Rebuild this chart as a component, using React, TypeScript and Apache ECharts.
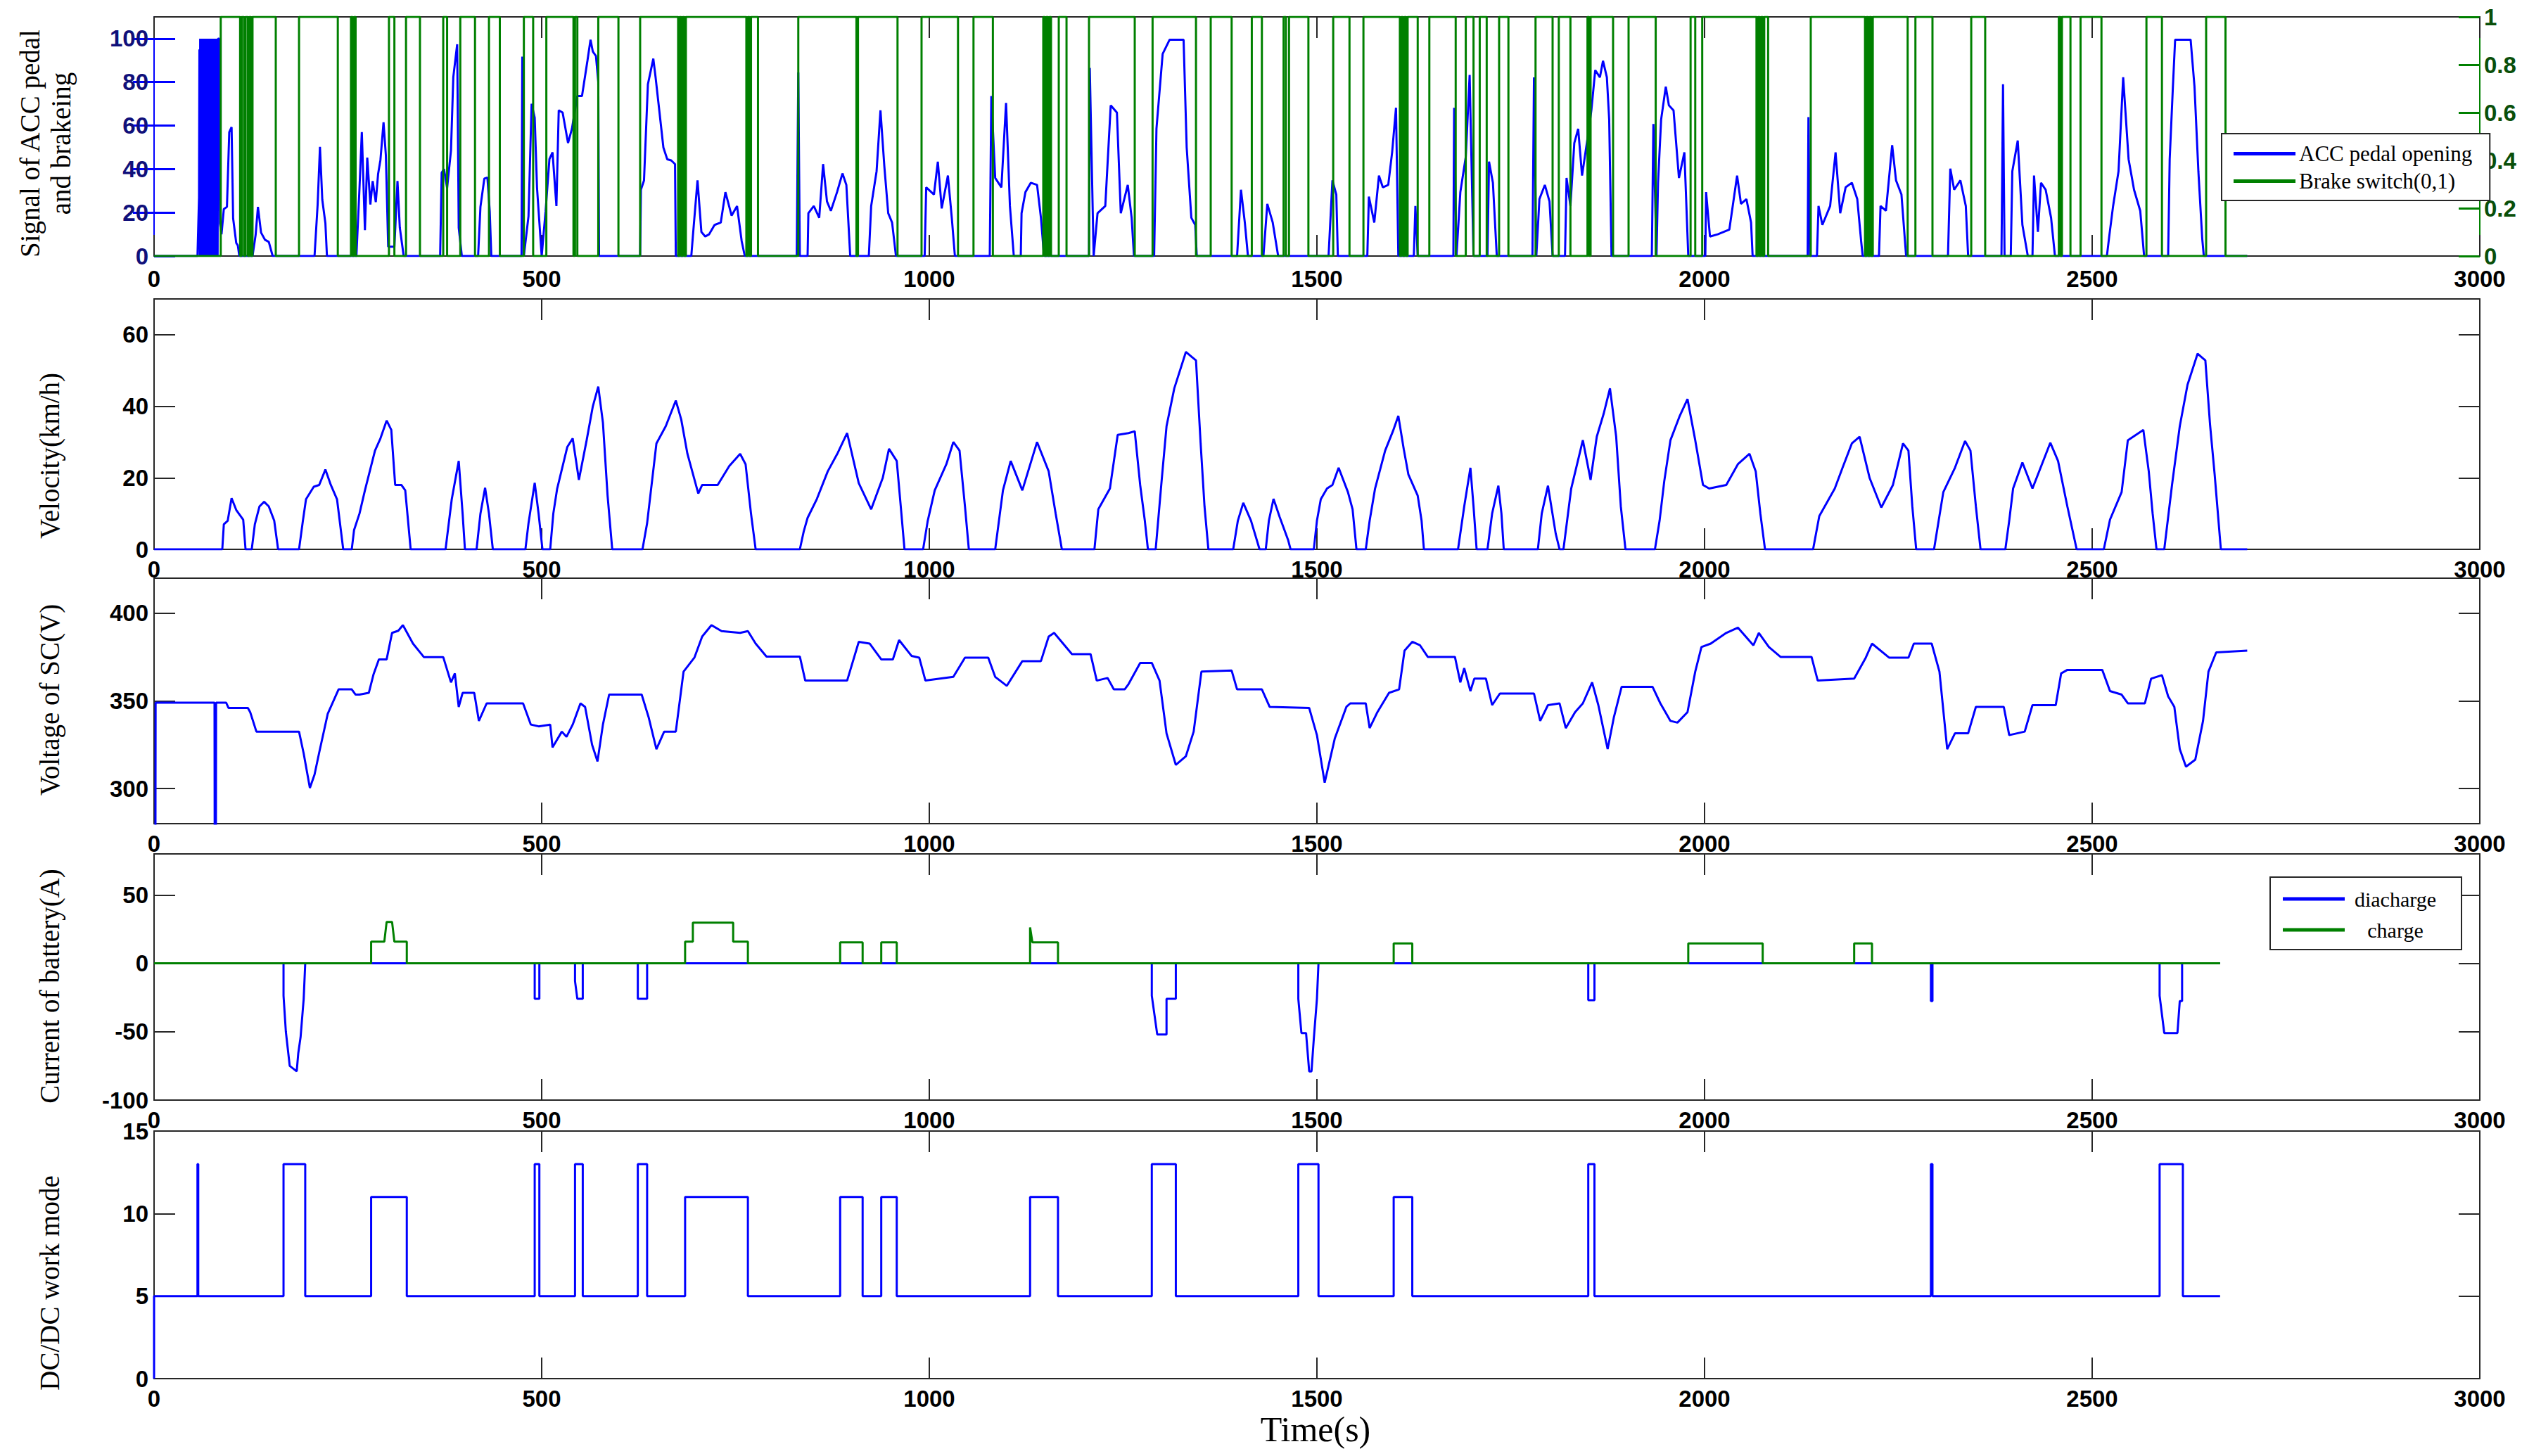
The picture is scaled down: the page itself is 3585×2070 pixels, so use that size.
import React, { useEffect, useRef } from "react";
import * as echarts from "echarts";

// ---------- tick values ----------
const xTicks = [0, 500, 1000, 1500, 2000, 2500, 3000];
const pedalTicks = [0, 20, 40, 60, 80, 100];
const brakeTicks = [0, 0.2, 0.4, 0.6, 0.8, 1];
const velTicks = [0, 20, 40, 60];
const voltTicks = [300, 350, 400];
const currTicks = [-100, -50, 0, 50];
const modeTicks = [0, 5, 10, 15];

// ---------- data: [time(s), value] ----------
const pedal: number[][] = [
  [0, 0], [56, 0], [58, 27], [58.5, 95], [59, 0], [59.5, 100], [60, 0], [60.5, 100], [61, 0], [61.5, 100], [62, 0],
  [62.5, 100], [63, 5], [63.5, 100], [64, 0], [64.5, 100], [65, 0], [65.5, 100], [66, 10], [66.5, 100], [67, 0],
  [67.5, 100], [68, 0], [68.5, 100], [69, 0], [69.5, 100], [70, 0], [70.5, 100], [71, 3], [71.5, 100], [72, 0],
  [72.5, 100], [73, 0], [73.5, 100], [74, 0], [74.5, 100], [75, 8], [75.5, 100], [76, 0], [76.5, 100], [77, 0],
  [77.5, 100], [78, 0], [78.5, 100], [79, 0], [79.5, 100], [80, 0], [80.5, 100], [81, 8], [81.5, 100], [82, 0],
  [82.5, 100], [83, 100], [84, 100], [85, 15], [87, 10], [90, 21.6], [94, 22.6], [97, 57],
  [100, 59.3], [102, 17.3], [106, 6], [108, 4.9], [110, 0], [127, 0], [131, 9.7], [134, 22.6], [138, 10.8], [143, 7.5],
  [148, 6.5], [153, 0], [207, 0], [211, 23.7], [214, 50.2], [217, 25.9], [221, 15.1], [223, 0], [261, 0], [265, 31.3],
  [268, 57], [272, 11.9], [275, 45.3], [279, 23.7], [282, 34.5], [286, 24.8], [289, 37.8], [292, 44.2], [296, 61.5],
  [299, 46.4], [302, 4.3], [310, 4.3], [314, 34.5], [317, 13], [322, 0], [369, 0], [371, 38.3], [374, 40], [378, 31.3],
  [383, 48.5], [386, 82.3], [391, 97.4], [393, 13], [397, 0], [418, 0], [421, 22.6], [426, 35.6], [430, 36.1],
  [433, 20.5], [435, 0], [474, 0], [475, 91.7], [477, 0], [483, 18.3], [487, 70], [491, 63.6], [494, 31.3], [500, 0],
  [505, 20.5], [510, 44.6], [514, 47.7], [519, 23], [522, 67], [527, 66], [534, 52], [539, 58.5], [546, 73.6],
  [552, 73.6], [559, 89.8], [563, 99.5], [566, 94], [570, 92], [573, 80], [574, 0], [627, 0], [628, 30.5], [632, 34.8],
  [637, 79], [644, 90.8], [647, 82], [652, 66], [657, 49.9], [662, 44.5], [667, 44], [672, 42.3], [673, 0], [693, 0],
  [695, 9], [701, 34.8], [706, 11.1], [711, 9], [716, 10], [723, 14.3], [731, 15.4], [737, 29.4], [745, 18.6],
  [752, 23], [758, 6.8], [762, 0], [829, 0], [831, 84.4], [833, 0], [843, 0], [844, 19.7], [851, 23], [858, 17.6],
  [863, 42.3], [868, 25.1], [873, 20.8], [881, 29.4], [888, 38], [893, 32.7], [898, 0], [922, 0], [925, 23], [932, 39],
  [937, 67], [942, 41.3], [947, 19.7], [952, 15.4], [957, 0], [994, 0], [996, 31.6], [1006, 28.3], [1011, 43.4],
  [1016, 21.9], [1024, 37], [1029, 17.6], [1033, 0], [1078, 0], [1080, 73.6], [1085, 35.9], [1093, 31.6], [1099, 70.4],
  [1104, 23], [1109, 0], [1118, 0], [1119, 19.7], [1124, 29.4], [1131, 33.7], [1139, 32.7], [1144, 17.6], [1148, 0],
  [1206, 0], [1207, 86.5], [1212, 0], [1217, 19.7], [1227, 23], [1234, 69.3], [1242, 66], [1247, 19.7], [1256, 32.7],
  [1261, 17.6], [1264, 0], [1290, 0], [1293, 58.5], [1301, 93], [1310, 99.5], [1328, 99.5], [1332, 49.9], [1338, 17.6],
  [1343, 14.3], [1345, 0], [1397, 0], [1402, 30.5], [1407, 15.4], [1411, 0], [1431, 0], [1436, 24], [1443, 15.4],
  [1450, 0], [1515, 0], [1520, 34.8], [1525, 28.3], [1527, 0], [1565, 0], [1567, 27.3], [1574, 15.4], [1580, 37],
  [1585, 31.6], [1592, 32.7], [1597, 47.7], [1602, 68.2], [1605, 0], [1625, 0], [1627, 23], [1630, 0], [1676, 0],
  [1677, 68.2], [1680, 0], [1685, 29.4], [1692, 45.6], [1697, 83.3], [1702, 0], [1720, 0], [1722, 43.4], [1727, 33.7],
  [1732, 0], [1778, 0], [1780, 82.2], [1783, 0], [1787, 26.2], [1794, 32.7], [1800, 25.1], [1804, 0], [1820, 0],
  [1822, 35.9], [1827, 23], [1832, 52], [1837, 58.5], [1842, 37], [1850, 56.4], [1854, 67], [1859, 85.5], [1865, 82.2],
  [1869, 89.8], [1874, 82.2], [1877, 62.8], [1880, 0], [1932, 0], [1934, 60.7], [1938, 0], [1940, 33.7], [1944, 62.8],
  [1950, 77.9], [1954, 69.3], [1960, 67], [1967, 35.9], [1974, 47.7], [1979, 0], [2001, 0], [2002, 29.4], [2007, 9],
  [2017, 10], [2032, 12.2], [2042, 37], [2047, 24], [2054, 26.2], [2060, 15.4], [2062, 0], [2133, 0], [2134, 63.9],
  [2136, 0], [2145, 0], [2147, 23], [2152, 14.3], [2162, 23], [2169, 47.7], [2175, 19.7], [2182, 31.6], [2190, 33.7],
  [2197, 26.2], [2202, 6.8], [2204, 0], [2225, 0], [2227, 23], [2234, 20.8], [2242, 51], [2247, 34.8], [2254, 28.3],
  [2260, 0], [2314, 0], [2317, 40.2], [2322, 30.5], [2330, 34.8], [2337, 23], [2340, 0], [2383, 0], [2385, 79],
  [2387, 0], [2395, 0], [2397, 39], [2404, 53.1], [2410, 14.3], [2417, 0], [2423, 0], [2425, 37], [2430, 11.1],
  [2434, 33.7], [2440, 30.5], [2447, 17.6], [2452, 0], [2519, 0], [2522, 9], [2527, 23], [2534, 39], [2540, 82.2],
  [2547, 44.5], [2554, 30.5], [2562, 20.8], [2567, 0], [2598, 0], [2600, 44.5], [2604, 76.8], [2607, 99.5],
  [2627, 99.5], [2632, 77.9], [2637, 39], [2642, 7.9], [2644, 0], [2700, 0],
];

// times at which the brake switch toggles (starts at 0)
const brakeEdges: number[] = [
  86, 111, 113, 116, 118, 121, 123, 125, 127, 157, 187, 237, 254, 256, 258, 260, 303, 310, 325, 343, 373, 378, 395, 414,
  432, 446, 477, 489, 506, 541, 543, 546, 573, 599, 627, 676, 678, 680, 682, 684, 686, 764, 766, 768, 770, 779, 831,
  906, 908, 959, 990, 1037, 1057, 1082, 1147, 1149, 1151, 1153, 1155, 1157, 1167, 1177, 1206, 1265, 1288, 1344, 1363,
  1390, 1416, 1429, 1457, 1460, 1464, 1489, 1521, 1542, 1560, 1607, 1609, 1611, 1613, 1615, 1617, 1630, 1645, 1679,
  1692, 1702, 1710, 1719, 1735, 1747, 1782, 1804, 1812, 1827, 1849, 1851, 1853, 1882, 1902, 1937, 1982, 1988, 1997,
  2067, 2069, 2071, 2073, 2075, 2077, 2082, 2137, 2207, 2209, 2211, 2213, 2215, 2217, 2262, 2272, 2294, 2344, 2362,
  2457, 2459, 2461, 2472, 2485, 2512, 2570, 2590, 2647, 2672,
];
const brakeEnd = 2700;

const velocity: number[][] = [
  [0, 0], [88, 0], [90, 7], [95, 8], [100, 14.3], [106, 11], [115, 8.3], [118, 0], [126, 0], [130, 7], [136, 12],
  [142, 13.3], [148, 12], [155, 8], [160, 0], [187, 0], [192, 8], [196, 14], [206, 17.5], [213, 18], [221, 22.3],
  [228, 18], [236, 14], [244, 0], [255, 0], [258, 5.4], [265, 10], [272, 16.5], [285, 27.6], [292, 31], [300, 36],
  [306, 33.4], [311, 18], [319, 18], [324, 16.5], [331, 0], [376, 0], [384, 14], [393, 24.7], [398, 10], [401, 0],
  [416, 0], [421, 10], [427, 17.2], [432, 10], [437, 0], [479, 0], [483, 7.3], [491, 18.6], [496, 10], [501, 0],
  [511, 0], [515, 10], [520, 17], [533, 28.6], [540, 31], [548, 19.4], [558, 30.5], [566, 40], [573, 45.5],
  [579, 35.4], [585, 15], [591, 0], [630, 0], [636, 7.3], [648, 29.6], [660, 34.4], [673, 41.6], [680, 36.3],
  [688, 26.7], [702, 15.6], [707, 18], [727, 18], [742, 23.3], [756, 26.7], [763, 23.8], [770, 10], [776, 0],
  [833, 0], [838, 5], [843, 8.8], [855, 14.1], [869, 21.8], [882, 27], [894, 32.5], [909, 18.5], [925, 11.2],
  [940, 20], [948, 28.1], [958, 24.7], [964, 10], [968, 0], [992, 0], [998, 8], [1007, 16.5], [1022, 23.8], [1031, 30],
  [1039, 27.6], [1046, 12], [1051, 0], [1085, 0], [1095, 16.5], [1105, 24.7], [1120, 16.5], [1139, 30], [1154, 21.8],
  [1163, 10], [1171, 0], [1213, 0], [1218, 11.2], [1233, 17], [1243, 32], [1257, 32.5], [1265, 33], [1272, 18],
  [1278, 8], [1282, 0], [1292, 0], [1300, 20], [1306, 34.4], [1316, 45], [1331, 55.2], [1344, 52.8], [1350, 29.6],
  [1355, 12], [1360, 0], [1392, 0], [1398, 8], [1405, 13], [1415, 8], [1426, 0], [1434, 0], [1438, 8], [1444, 14.1],
  [1452, 9], [1463, 2.5], [1466, 0], [1496, 0], [1500, 8], [1505, 14], [1513, 17], [1520, 18], [1528, 22.8],
  [1540, 16], [1546, 11.2], [1551, 0], [1563, 0], [1568, 8], [1575, 17], [1588, 27.6], [1598, 33], [1605, 37.3],
  [1612, 28], [1618, 20.9], [1630, 15], [1635, 8], [1638, 0], [1682, 0], [1690, 12], [1698, 22.8], [1702, 12],
  [1706, 0], [1720, 0], [1726, 10], [1734, 17.8], [1738, 10], [1741, 0], [1785, 0], [1790, 10], [1798, 17.8],
  [1808, 4.4], [1813, 0], [1818, 0], [1828, 17], [1843, 30.5], [1848, 25], [1853, 19.4], [1861, 31.5], [1870, 38],
  [1878, 45], [1886, 31.5], [1892, 12], [1898, 0], [1936, 0], [1942, 8], [1948, 19], [1956, 30.5], [1968, 37.3],
  [1978, 42], [1988, 30.5], [1998, 18], [2006, 17], [2028, 18], [2043, 23.8], [2058, 26.7], [2066, 21.8], [2072, 10],
  [2078, 0], [2140, 0], [2148, 9.3], [2168, 17], [2178, 22.8], [2190, 29.6], [2200, 31.5], [2213, 19.9], [2228, 11.7],
  [2243, 18], [2256, 29.6], [2263, 27.6], [2268, 12], [2273, 0], [2296, 0], [2302, 8], [2308, 16], [2323, 22.8],
  [2336, 30.3], [2343, 27.6], [2350, 12], [2356, 0], [2388, 0], [2393, 8], [2398, 17], [2410, 24.3], [2423, 17],
  [2446, 29.8], [2456, 24.7], [2468, 12], [2480, 0], [2515, 0], [2523, 8.3], [2538, 16], [2546, 30.5], [2566, 33.4],
  [2573, 21.8], [2578, 10], [2583, 0], [2593, 0], [2603, 18], [2613, 34.4], [2623, 46], [2636, 54.7], [2646, 52.8],
  [2652, 35], [2658, 20.9], [2666, 0], [2700, 0],
];

const voltage: number[][] = [
  [0, 0], [1, 0], [2, 349], [78, 349], [79, 0], [80, 349], [93, 349], [96, 346], [121, 346], [124, 343.6],
  [132, 332.5], [187, 332.5], [193, 320], [201, 300.4], [207, 308], [213, 320.5], [224, 342.6], [238, 356.6],
  [255, 356.6], [260, 353.6], [265, 353.6], [277, 354.6], [283, 365], [290, 373.7], [300, 373.7], [307, 388.8],
  [315, 390], [321, 393.2], [334, 382.7], [348, 375], [373, 375], [383, 360.6], [388, 365.7], [393, 346.6],
  [398, 354.6], [413, 354.6], [419, 338.6], [429, 348.6], [476, 348.6], [486, 336.5], [496, 335.5], [511, 336.5],
  [514, 323.5], [526, 332.5], [532, 329.5], [540, 336.5], [550, 348.6], [556, 346.6], [565, 325], [572, 315.5],
  [579, 336.5], [587, 353.6], [629, 353.6], [638, 340.6], [648, 322.5], [658, 332.5], [673, 332.5], [683, 366.7],
  [697, 374.7], [707, 386.7], [719, 393.2], [732, 389.8], [756, 388.8], [766, 389.8], [776, 382.7], [790, 375.3],
  [833, 375.3], [840, 361.6], [894, 361.6], [909, 383.7], [923, 382.7], [938, 373.7], [953, 373.7], [961, 384.7],
  [977, 375.7], [987, 374.7], [995, 361.6], [1031, 363.7], [1046, 374.7], [1076, 374.7], [1085, 363.7], [1093, 361],
  [1100, 358.6], [1120, 372.7], [1144, 372.7], [1154, 386.7], [1161, 388.8], [1184, 376.7], [1208, 376.7],
  [1216, 361.6], [1230, 363.1], [1238, 356.6], [1252, 356.6], [1257, 359.6], [1272, 371.7], [1287, 371.7],
  [1297, 361.6], [1306, 331.5], [1318, 313.5], [1331, 318.5], [1341, 332.5], [1351, 366.7], [1390, 367.3],
  [1397, 356.6], [1429, 356.6], [1439, 346.6], [1490, 346], [1500, 330.5], [1510, 303.4], [1523, 328.5],
  [1538, 346.6], [1543, 348.6], [1563, 348.6], [1568, 334.5], [1578, 343.6], [1593, 354.6], [1606, 356.6],
  [1613, 378.7], [1623, 383.7], [1633, 381.7], [1643, 375.1], [1678, 375.1], [1685, 360.6], [1690, 368.7],
  [1698, 355.6], [1703, 362.7], [1718, 362.7], [1726, 347.6], [1736, 354.2], [1780, 354.2], [1788, 338.6],
  [1798, 347.6], [1813, 348.6], [1821, 334.5], [1833, 343.6], [1843, 348.6], [1855, 360.6], [1863, 347.6],
  [1875, 322.5], [1883, 340.6], [1893, 358], [1933, 358], [1943, 348.6], [1956, 338.6], [1965, 337.6], [1978, 343.6],
  [1988, 366.7], [1996, 380.7], [2008, 382.7], [2028, 388.8], [2043, 391.8], [2063, 381.7], [2070, 388.8],
  [2083, 380.7], [2098, 375.1], [2138, 375.1], [2146, 361.6], [2193, 362.7], [2208, 374.7], [2216, 382.7],
  [2238, 374.7], [2263, 374.7], [2270, 382.7], [2293, 382.7], [2303, 366.7], [2313, 322.5], [2323, 331.5],
  [2340, 331.5], [2350, 346.6], [2386, 346.6], [2393, 330.5], [2413, 332.5], [2423, 347.6], [2453, 347.6],
  [2460, 365.7], [2468, 367.7], [2513, 367.7], [2523, 355.6], [2538, 353.6], [2546, 348.6], [2568, 348.6],
  [2576, 362.7], [2590, 364.7], [2598, 352.6], [2606, 346.6], [2613, 322.5], [2621, 312.5], [2633, 316.5],
  [2643, 338.6], [2650, 366.7], [2660, 377.7], [2700, 378.7],
];

const discharge: number[][] = [
  [0, 0], [167, 0], [167, -23.7], [170, -50], [175, -75], [184, -79], [186, -65.8], [189, -54], [193, -26], [195, 0],
  [491, 0], [491, -26], [497, -26], [497, 0], [543, 0], [543, -13], [546, -26], [553, -26], [553, 0], [624, 0],
  [624, -26], [636, -26], [636, 0], [1287, 0], [1287, -23.7], [1294, -52], [1306, -52], [1306, -26], [1318, -26],
  [1318, 0], [1476, 0], [1476, -26], [1480, -51], [1486, -51], [1490, -79], [1493, -79], [1496, -55], [1500, -26],
  [1502, 0], [1850, 0], [1850, -27], [1858, -27], [1858, 0], [2292, 0], [2292, -27.6], [2294, -27.6], [2294, 0],
  [2587, 0], [2587, -23.7], [2593, -51], [2610, -51], [2613, -27.6], [2616, -27.6], [2616, 0], [2665, 0],
];

const charge: number[][] = [
  [0, 0], [280, 0], [280, 15.8], [297, 15.8], [300, 30.3], [307, 30.3], [310, 15.8], [326, 15.8], [326, 0], [685, 0],
  [685, 15.8], [695, 15.8], [695, 29.7], [747, 29.7], [747, 15.8], [766, 15.8], [766, 0], [885, 0], [885, 15.3],
  [914, 15.3], [914, 0], [938, 0], [938, 15.3], [958, 15.3], [958, 0], [1130, 0], [1130, 26.3], [1133, 15.3],
  [1166, 15.3], [1166, 0], [1599, 0], [1599, 14.5], [1623, 14.5], [1623, 0], [1979, 0], [1979, 14.5], [2075, 14.5],
  [2075, 0], [2193, 0], [2193, 14.5], [2216, 14.5], [2216, 0], [2665, 0],
];

const dcMode: number[][] = [
  [0, 0], [0, 5], [56, 5], [56, 13], [57, 13], [57, 5], [167, 5], [167, 13], [195, 13], [195, 5], [280, 5], [280, 11],
  [326, 11], [326, 5], [491, 5], [491, 13], [497, 13], [497, 5], [543, 5], [543, 13], [553, 13], [553, 5], [624, 5],
  [624, 13], [636, 13], [636, 5], [685, 5], [685, 11], [766, 11], [766, 5], [885, 5], [885, 11], [914, 11], [914, 5],
  [938, 5], [938, 11], [958, 11], [958, 5], [1130, 5], [1130, 11], [1166, 11], [1166, 5], [1287, 5], [1287, 13],
  [1318, 13], [1318, 5], [1476, 5], [1476, 13], [1502, 13], [1502, 5], [1599, 5], [1599, 11], [1623, 11], [1623, 5],
  [1850, 5], [1850, 13], [1858, 13], [1858, 5], [2292, 5], [2292, 13], [2294, 13], [2294, 5], [2587, 5], [2587, 13],
  [2617, 13], [2617, 5], [2665, 5],
];

// ---------- styling ----------
const BLUE = "#0000ff";
const GREEN = "#008000";
const AX = "#262626";
const tickFont = { fontFamily: "'Liberation Sans', Arial, sans-serif", fontWeight: "bold" as const, fontSize: 33, lineHeight: 26 };
const serif = "'Liberation Serif', 'Times New Roman', serif";

const L = 219;
const W = 3306;
const panels = [
  { top: 24, height: 340 },
  { top: 425, height: 356 },
  { top: 822, height: 349 },
  { top: 1214, height: 350 },
  { top: 1608, height: 352 },
];

function buildBrake(): number[][] {
  const d: number[][] = [[0, 0]];
  let s = 0;
  for (const t of brakeEdges) {
    d.push([t, s]);
    s = 1 - s;
    d.push([t, s]);
  }
  d.push([brakeEnd, s]);
  return d;
}

function xPair(gridIndex: number, margin: number) {
  const common = {
    type: "value",
    gridIndex,
    min: 0,
    max: 3000,
    interval: 500,
    splitLine: { show: false },
    axisLine: { show: true, onZero: false, lineStyle: { color: AX, width: 2 } },
    axisTick: { show: true, inside: true, length: 30, customValues: xTicks, lineStyle: { color: AX, width: 2 } },
  };
  return [
    {
      ...common,
      position: "bottom",
      axisLabel: { show: true, customValues: xTicks, margin, color: "#000", ...tickFont, formatter: (v: number) => String(v) },
    },
    { ...common, position: "top", axisLabel: { show: false } },
  ];
}

function yPair(gridIndex: number, min: number, max: number, ticks: number[]) {
  const common = {
    type: "value",
    gridIndex,
    min,
    max,
    splitLine: { show: false },
    axisLine: { show: true, onZero: false, lineStyle: { color: AX, width: 2 } },
    axisTick: { show: true, inside: true, length: 30, customValues: ticks, lineStyle: { color: AX, width: 2 } },
  };
  return [
    {
      ...common,
      position: "left",
      axisLabel: { show: true, customValues: ticks, margin: 8, color: "#000", ...tickFont, formatter: (v: number) => String(v) },
    },
    { ...common, position: "right", axisLabel: { show: false } },
  ];
}

function lineSeries(name: string, data: number[][], xi: number, yi: number, color: string, z = 2) {
  return {
    name,
    type: "line",
    data,
    xAxisIndex: xi,
    yAxisIndex: yi,
    showSymbol: false,
    symbol: "none",
    silent: true,
    clip: true,
    z,
    color,
    itemStyle: { color },
    lineStyle: { color, width: 3 },
  };
}

function yName(text: string, x: number, y: number) {
  return {
    type: "text",
    x,
    y,
    rotation: Math.PI / 2,
    silent: true,
    style: {
      text,
      font: `39px ${serif}`,
      fill: "#000",
      align: "center",
      verticalAlign: "middle",
      textAlign: "center",
      textVerticalAlign: "middle",
    },
  };
}

export default function App() {
  const ref = useRef<HTMLDivElement>(null);
  useEffect(() => {
    if (!ref.current) return;
    const chart = echarts.init(ref.current, undefined, { renderer: "svg" });

    const grids: any[] = panels.map((p) => ({ left: L, top: p.top, width: W, height: p.height, containLabel: false }));
    grids.push({ left: L, top: panels[0].top, width: W, height: panels[0].height, containLabel: false });

    const xAxes: any[] = [];
    for (let i = 0; i < 5; i++) xAxes.push(...xPair(i, i === 0 ? 19 : 15));
    xAxes.push({ type: "value", gridIndex: 5, min: 0, max: 3000, show: false });

    // panel 1 axes: pedal (left, blue) and brake switch (right, green)
    const yAxes: any[] = [
      {
        type: "value", gridIndex: 0, position: "left", min: 0, max: 110,
        splitLine: { show: false },
        axisLine: { show: true, onZero: false, lineStyle: { color: BLUE, width: 2 } },
        axisTick: { show: true, inside: true, length: 30, customValues: pedalTicks, lineStyle: { color: BLUE, width: 3 } },
        axisLabel: { show: true, customValues: pedalTicks, margin: 8, color: "#10107a", ...tickFont, formatter: (v: number) => String(v) },
      },
      {
        type: "value", gridIndex: 0, position: "right", min: 0, max: 1,
        splitLine: { show: false },
        axisLine: { show: true, onZero: false, lineStyle: { color: GREEN, width: 2 } },
        axisTick: { show: true, inside: true, length: 30, customValues: brakeTicks, lineStyle: { color: GREEN, width: 3 } },
        axisLabel: {
          show: true, customValues: brakeTicks, margin: 6, color: "#0a4f0a", ...tickFont,
          padding: [0, 0, 10, 0],
          formatter: (v: number) => String(Math.round(v * 10) / 10),
        },
      },
    ];
    yAxes.push(...yPair(1, 0, 70, velTicks));
    yAxes.push(...yPair(2, 280, 420, voltTicks));
    yAxes.push(...yPair(3, -100, 80, currTicks));
    yAxes.push(...yPair(4, 0, 15, modeTicks));
    yAxes.push({
      type: "value", gridIndex: 5, position: "right", min: 0, max: 110,
      splitLine: { show: false },
      axisLine: { show: false },
      axisTick: { show: true, inside: true, length: 30, customValues: pedalTicks.slice(1), lineStyle: { color: BLUE, width: 3 } },
      axisLabel: { show: false },
    });

    const series = [
      lineSeries("ACC pedal opening", pedal, 0, 0, BLUE, 2),
      lineSeries("Brake switch(0,1)", buildBrake(), 0, 1, GREEN, 3),
      lineSeries("Velocity", velocity, 2, 2, BLUE),
      lineSeries("Voltage", voltage, 4, 4, BLUE),
      lineSeries("diacharge", discharge, 6, 6, BLUE, 2),
      lineSeries("charge", charge, 6, 6, GREEN, 3),
      lineSeries("DC/DC mode", dcMode, 8, 8, BLUE),
    ];

    const legendText = { fontFamily: serif, color: "#000" };

    chart.setOption({
      animation: false,
      backgroundColor: "#ffffff",
      grid: grids,
      xAxis: xAxes,
      yAxis: yAxes,
      series,
      legend: [
        {
          data: ["ACC pedal opening", "Brake switch(0,1)"],
          orient: "vertical",
          left: 3158,
          top: 190,
          padding: [13, 25, 12, 17],
          itemGap: 8,
          itemWidth: 88,
          itemHeight: 5,
          icon: "rect",
          backgroundColor: "#ffffff",
          borderColor: AX,
          borderWidth: 2,
          selectedMode: false,
          textStyle: { ...legendText, fontSize: 31, lineHeight: 31 },
        },
        {
          data: ["diacharge", "charge"],
          orient: "vertical",
          left: 3227,
          top: 1247,
          padding: [16, 27, 13, 18],
          itemGap: 14,
          itemWidth: 88,
          itemHeight: 5,
          icon: "rect",
          backgroundColor: "#ffffff",
          borderColor: AX,
          borderWidth: 2,
          selectedMode: false,
          formatter: (name: string) => `{t|${name}}`,
          textStyle: {
            ...legendText,
            fontSize: 30,
            lineHeight: 30,
            rich: { t: { width: 134, align: "center", fontSize: 30, fontFamily: serif, color: "#000" } },
          },
        },
      ],
      graphic: [
        yName("Signal of ACC pedal", 42, 204),
        yName("and brakeing", 86, 204),
        yName("Velocity(km/h)", 70, 648),
        yName("Voltage of SC(V)", 70, 995),
        yName("Current of battery(A)", 70, 1402),
        yName("DC/DC work mode", 70, 1824),
        {
          type: "text",
          x: 1870,
          y: 2032,
          silent: true,
          style: {
            text: "Time(s)",
            font: `50px ${serif}`,
            fill: "#000",
            align: "center",
            verticalAlign: "middle",
            textAlign: "center",
            textVerticalAlign: "middle",
          },
        },
      ],
    });
    return () => chart.dispose();
  }, []);

  return <div ref={ref} style={{ position: "fixed", left: 0, top: 0, width: 3585, height: 2070, background: "#fff" }} />;
}
